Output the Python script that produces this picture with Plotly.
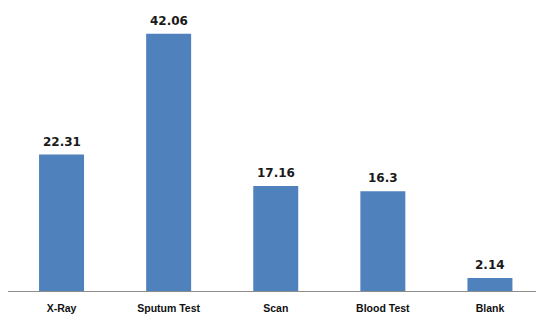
import plotly.graph_objects as go

categories = ["X-Ray", "Sputum Test", "Scan", "Blood Test", "Blank"]
values = [22.31, 42.06, 17.16, 16.3, 2.14]
value_labels = ["22.31", "42.06", "17.16", "16.3", "2.14"]

bar_color = "#4f81bd"

fig = go.Figure()
fig.add_trace(go.Bar(
    x=categories,
    y=values,
    marker=dict(color=bar_color, line=dict(width=0)),
    width=0.42,
    hoverinfo="skip",
))

for cat, val, lab in zip(categories, values, value_labels):
    fig.add_annotation(
        x=cat, y=val, text=lab, showarrow=False,
        yanchor="bottom", yshift=4,
        font=dict(family="DejaVu Sans", size=12, color="#1a1a1a", weight="bold"),
    )

fig.update_layout(
    width=536, height=324,
    margin=dict(l=8, r=0, t=0, b=33),
    paper_bgcolor="white", plot_bgcolor="white",
    showlegend=False,
    xaxis=dict(
        range=[-0.5, 4.43],
        showline=True, linecolor="#8c8c8c", linewidth=1,
        showgrid=False, ticks="",
        ticklabelstandoff=7,
        tickfont=dict(family="Liberation Sans", size=10.5, color="#111111", weight="bold"),
        fixedrange=True,
    ),
    yaxis=dict(
        range=[0, 47.6],
        visible=False, showgrid=False, zeroline=False,
        fixedrange=True,
    ),
)

fig.write_html("out.html")
